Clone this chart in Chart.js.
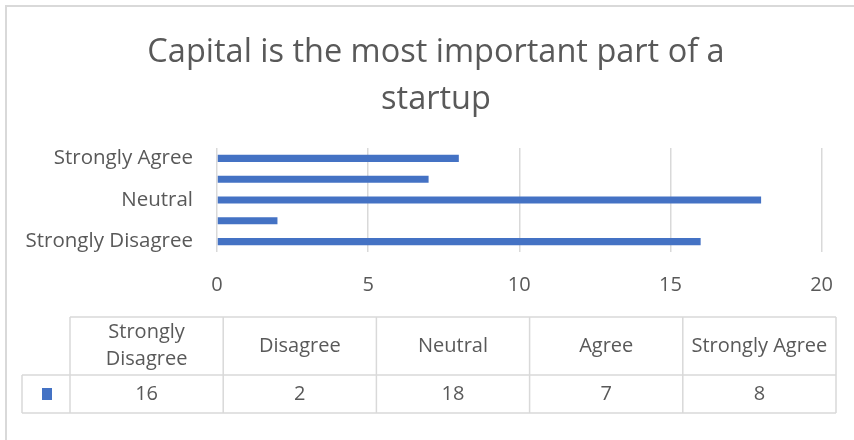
<!DOCTYPE html>
<html>
<head>
<meta charset="utf-8">
<script src="https://cdn.jsdelivr.net/npm/chart.js@4.4.0/dist/chart.umd.min.js"></script>
<style>
  html, body { margin: 0; padding: 0; background: #fff; overflow: hidden; }
  #wrap { width: 854px; height: 440px; }
</style>
</head>
<body>
<div id="wrap"><canvas id="chart" width="854" height="440"></canvas></div>
<script>
const categories = ['Strongly Disagree', 'Disagree', 'Neutral', 'Agree', 'Strongly Agree'];
const counts = [16, 2, 18, 7, 8];
const xTicks = [0, 5, 10, 15, 20];
const titleLines = ['Capital is the most important part of a', 'startup'];

const FONT = "'Open Sans', sans-serif";
const TEXT = '#595959';
const GRID = '#d9d9d9';
const BLUE = '#4472C4';

// frame around the chart + data table under the axis
const tablePlugin = {
    id: 'dataTable',
    afterLayout(chart) {
        // the chart frame runs past the right edge, so centre the title a bit further right
        chart.titleBlock.left += 38;
    },
    beforeDraw(chart) {
        const ctx = chart.ctx;
        ctx.save();
        ctx.fillStyle = '#fff';
        ctx.fillRect(0, 0, chart.width, chart.height);
        ctx.strokeStyle = GRID;
        ctx.lineWidth = 2;
        ctx.beginPath();
        ctx.moveTo(6, chart.height);
        ctx.lineTo(6, 6);
        ctx.lineTo(chart.width, 6);
        ctx.stroke();
        ctx.restore();
    },
    afterDraw(chart) {
        const ctx = chart.ctx;
        const keyLeft = 22, left = 70, colW = 153.2;
        const top = 317, mid = 375, bottom = 413;
        const right = left + colW * categories.length;
        ctx.save();
        ctx.strokeStyle = GRID;
        ctx.lineWidth = 1.5;
        ctx.beginPath();
        ctx.moveTo(left, top); ctx.lineTo(right, top);
        ctx.moveTo(keyLeft, mid); ctx.lineTo(right, mid);
        ctx.moveTo(keyLeft, bottom); ctx.lineTo(right, bottom);
        ctx.moveTo(keyLeft, mid); ctx.lineTo(keyLeft, bottom);
        for (let i = 0; i <= categories.length; i++) {
            const x = left + colW * i;
            ctx.moveTo(x, top); ctx.lineTo(x, bottom);
        }
        ctx.stroke();

        ctx.font = '20px ' + FONT;
        ctx.fillStyle = TEXT;
        ctx.textAlign = 'center';
        ctx.textBaseline = 'middle';
        categories.forEach((c, i) => {
            const cx = left + colW * (i + 0.5);
            let lines = [c];
            if (ctx.measureText(c).width > colW - 4) lines = c.split(' ');
            const lh = 27;
            const y0 = (top + mid) / 2 - (lines.length - 1) * lh / 2;
            lines.forEach((l, j) => ctx.fillText(l, cx, y0 + j * lh));
            ctx.fillText(String(counts[i]), cx, (mid + bottom) / 2);
        });

        // legend key
        ctx.fillStyle = BLUE;
        ctx.fillRect(42, 388, 10, 12);
        ctx.restore();
    }
};

new Chart(document.getElementById('chart'), {
    type: 'bar',
    data: {
        labels: categories,
        datasets: [{
            data: counts,
            backgroundColor: BLUE,
            categoryPercentage: 1,
            barPercentage: 0.34
        }]
    },
    options: {
        indexAxis: 'y',
        responsive: false,
        animation: false,
        layout: { padding: { left: 10, right: 30, top: 0, bottom: 128 } },
        plugins: {
            legend: { display: false },
            tooltip: { enabled: false },
            title: {
                display: true,
                text: titleLines,
                color: TEXT,
                font: { family: FONT, size: 32.5, weight: 'normal', lineHeight: 47 / 32.5 },
                padding: { top: 29, bottom: 25 }
            }
        },
        scales: {
            x: {
                min: 0,
                max: 20,
                afterBuildTicks(axis) { axis.ticks = xTicks.map(v => ({ value: v })); },
                afterFit(axis) { axis.height = 60; },
                grid: { color: GRID, lineWidth: 1.5, drawTicks: false },
                border: { display: false },
                ticks: { color: TEXT, padding: 21, font: { family: FONT, size: 20 } }
            },
            y: {
                reverse: true,
                afterFit(axis) { axis.width = 207; },
                grid: { display: false },
                border: { display: false },
                ticks: {
                    color: TEXT,
                    padding: 16,
                    autoSkip: false,
                    font: { family: FONT, size: 20.5 },
                    callback: (v, i) => (i % 2 === 0 ? categories[i] : '')
                }
            }
        }
    },
    plugins: [tablePlugin]
});
</script>
</body>
</html>
